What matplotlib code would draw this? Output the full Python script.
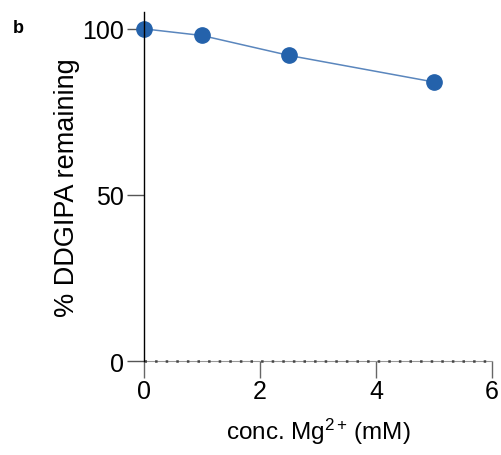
import matplotlib.pyplot as plt

plt.rcParams["font.family"] = ["Liberation Sans", "DejaVu Sans"]
plt.rcParams["mathtext.fontset"] = "custom"
plt.rcParams["mathtext.rm"] = "Liberation Sans"
plt.rcParams["mathtext.it"] = "Liberation Sans:italic"
plt.rcParams["mathtext.bf"] = "Liberation Sans:bold"
plt.rcParams["mathtext.default"] = "regular"

# Mg2+ concentration (mM) and % DDGIPA remaining
conc_mg = [0, 1, 2.5, 5]
pct_remaining = [100, 98, 92, 84]

x_ticks = [0, 2, 4, 6]
y_ticks = [0, 50, 100]


def main() -> None:
    fig = plt.figure(figsize=(5.01, 4.56), dpi=100)
    ax = fig.add_axes([0.287, 0.206, 0.695, 0.765])

    ax.plot(conc_mg, pct_remaining, color="#5a86bd", linewidth=1.1, zorder=2, clip_on=False)
    ax.plot(conc_mg, pct_remaining, linestyle="none", marker="o", markersize=11,
            color="#2462ab", zorder=3, clip_on=False)

    ax.set_xlim(0, 6)
    ax.set_ylim(0, 105)
    ax.set_xticks(x_ticks)
    ax.set_yticks(y_ticks)

    for side in ("top", "right"):
        ax.spines[side].set_visible(False)
    ax.spines["left"].set_color("black")
    ax.spines["left"].set_linewidth(1.0)
    ax.spines["left"].set_zorder(4)
    # baseline: thin grey rule with dark dots on it
    ax.spines["bottom"].set_color("#999999")
    ax.spines["bottom"].set_linewidth(0.8)
    ax.axhline(0, color="#444444", linewidth=1.8, linestyle=(0, (1, 3.24)),
               clip_on=False, zorder=3)

    ax.tick_params(axis="x", direction="out", length=12, width=1.0, color="#666666",
                   labelsize=18, pad=1)
    ax.tick_params(axis="y", direction="out", length=12, width=1.0, color="#555555",
                   labelsize=18, pad=2)

    ax.set_xlabel("conc. Mg$^{2+}\\,$(mM)", fontsize=17.5, labelpad=9)
    ax.set_ylabel("% DDGIPA remaining", fontsize=19.5, labelpad=2)

    fig.text(0.026, 0.928, "b", fontsize=13, fontweight="bold")

    fig.savefig("out.png", dpi=100)


if __name__ == "__main__":
    main()
